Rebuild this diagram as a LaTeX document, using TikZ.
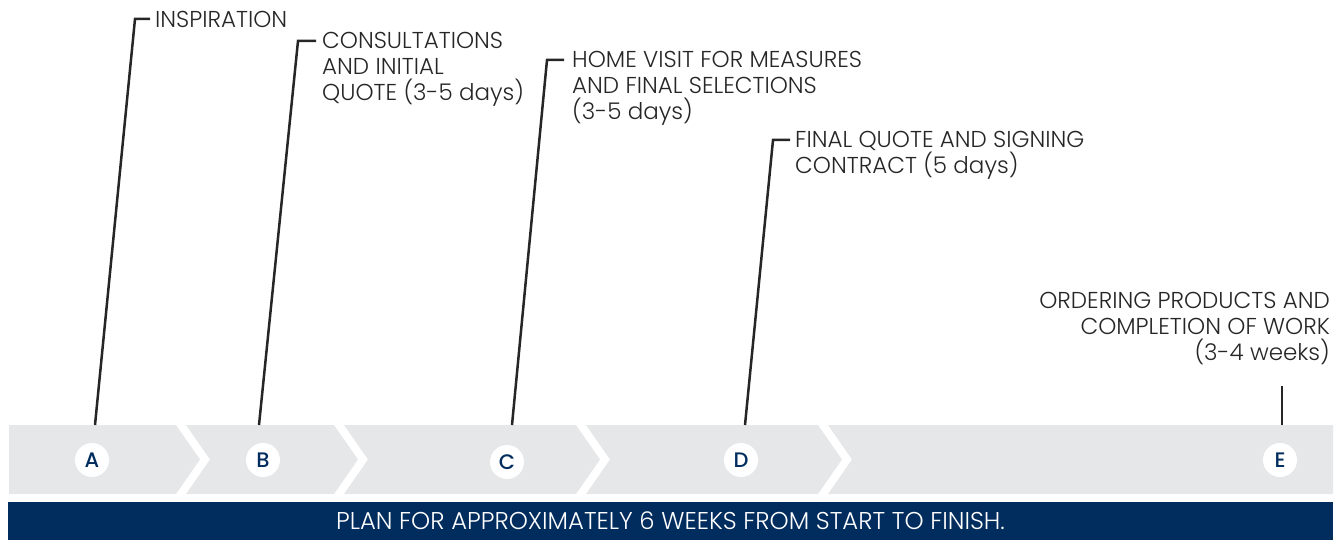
\documentclass[tikz,border=0pt]{standalone}
\usepackage{fontspec}
\setmainfont{Poppins}[UprightFont=* Light]
\newfontfamily\markfont{Poppins}[UprightFont=* Medium]
\usetikzlibrary{positioning, calc}
\definecolor{bandgray}{HTML}{E6E7E8}
\definecolor{navy}{HTML}{002D5E}
\definecolor{ink}{HTML}{262626}

\begin{document}
\begin{tikzpicture}[x=1pt, y=-1pt,
		lead/.style={draw=ink, line width=2.5pt},
		steptext/.style={text=ink, inner sep=0pt, align=left, font=\fontsize{23}{26}\selectfont},
		marker/.style={circle, fill=white, minimum size=34pt, inner sep=0pt, text=navy, font=\markfont\fontsize{21}{21}\selectfont},
		banner/.style={fill=navy, text=white, minimum width=1325pt, minimum height=38pt, inner sep=0pt, font=\fontsize{24.3}{26}\selectfont}]
	\useasboundingbox (0,0) rectangle (1343,540);
	\fill[bandgray] (9,425) -- (176,425) -- (200,459.5) -- (176,494) -- (9,494) -- cycle;
	\foreach \l/\r in {186/334, 344/576, 586/818} {
		\fill[bandgray] (\l,425) -- (\r,425) -- (\r+24,459.5) -- (\r,494) -- (\l,494) -- (\l+24,459.5) -- cycle;
	}
	\fill[bandgray] (828,425) -- (1333,425) -- (1333,494) -- (828,494) -- (852,459.5) -- cycle;
	\node[marker] (A) at (92,460) {A};
	\node[marker] (B) at (263,460) {B};
	\node[marker] (C) at (507,462) {C};
	\node[marker] (D) at (741,460) {D};
	\node[marker] (E) at (1280,460) {E};
	\node[banner] (plan) at (670.5,521) {PLAN FOR APPROXIMATELY 6 WEEKS FROM START TO FINISH.};
	\coordinate (pA) at (95,425);
	\coordinate (kA) at (135,19);
	\node[steptext, anchor=base west] (tA) at (155,28) {INSPIRATION};
	\draw[lead] (pA) -- (kA) -- ($(tA.west |- kA)+(-5,0)$);
	\coordinate (pB) at (259,425);
	\coordinate (kB) at (298,41);
	\node[steptext, anchor=base west] (tB) at (322,101) {CONSULTATIONS\\AND INITIAL\\QUOTE (3-5 days)};
	\draw[lead] (pB) -- (kB) -- ($(tB.west |- kB)+(-6,0)$);
	\coordinate (pC) at (512,425);
	\coordinate (kC) at (547,60);
	\node[steptext, anchor=base west] (tC) at (572,120) {HOME VISIT FOR MEASURES\\AND FINAL SELECTIONS\\(3-5 days)};
	\draw[lead] (pC) -- (kC) -- ($(tC.west |- kC)+(-8,0)$);
	\coordinate (pD) at (745,425);
	\coordinate (kD) at (773,140);
	\node[steptext, anchor=base west] (tD) at (795,174) {FINAL QUOTE AND SIGNING\\CONTRACT (5 days)};
	\draw[lead] (pD) -- (kD) -- ($(tD.west |- kD)+(-5,0)$);
	\coordinate (pE) at (1282,425);
	\coordinate (kE) at (1282,386);
	\node[steptext, align=right, anchor=base east] (tE) at (1330,360) {ORDERING PRODUCTS AND\\COMPLETION OF WORK\\(3-4 weeks)};
	\draw[lead] (pE) -- (kE);
\end{tikzpicture}
\end{document}
